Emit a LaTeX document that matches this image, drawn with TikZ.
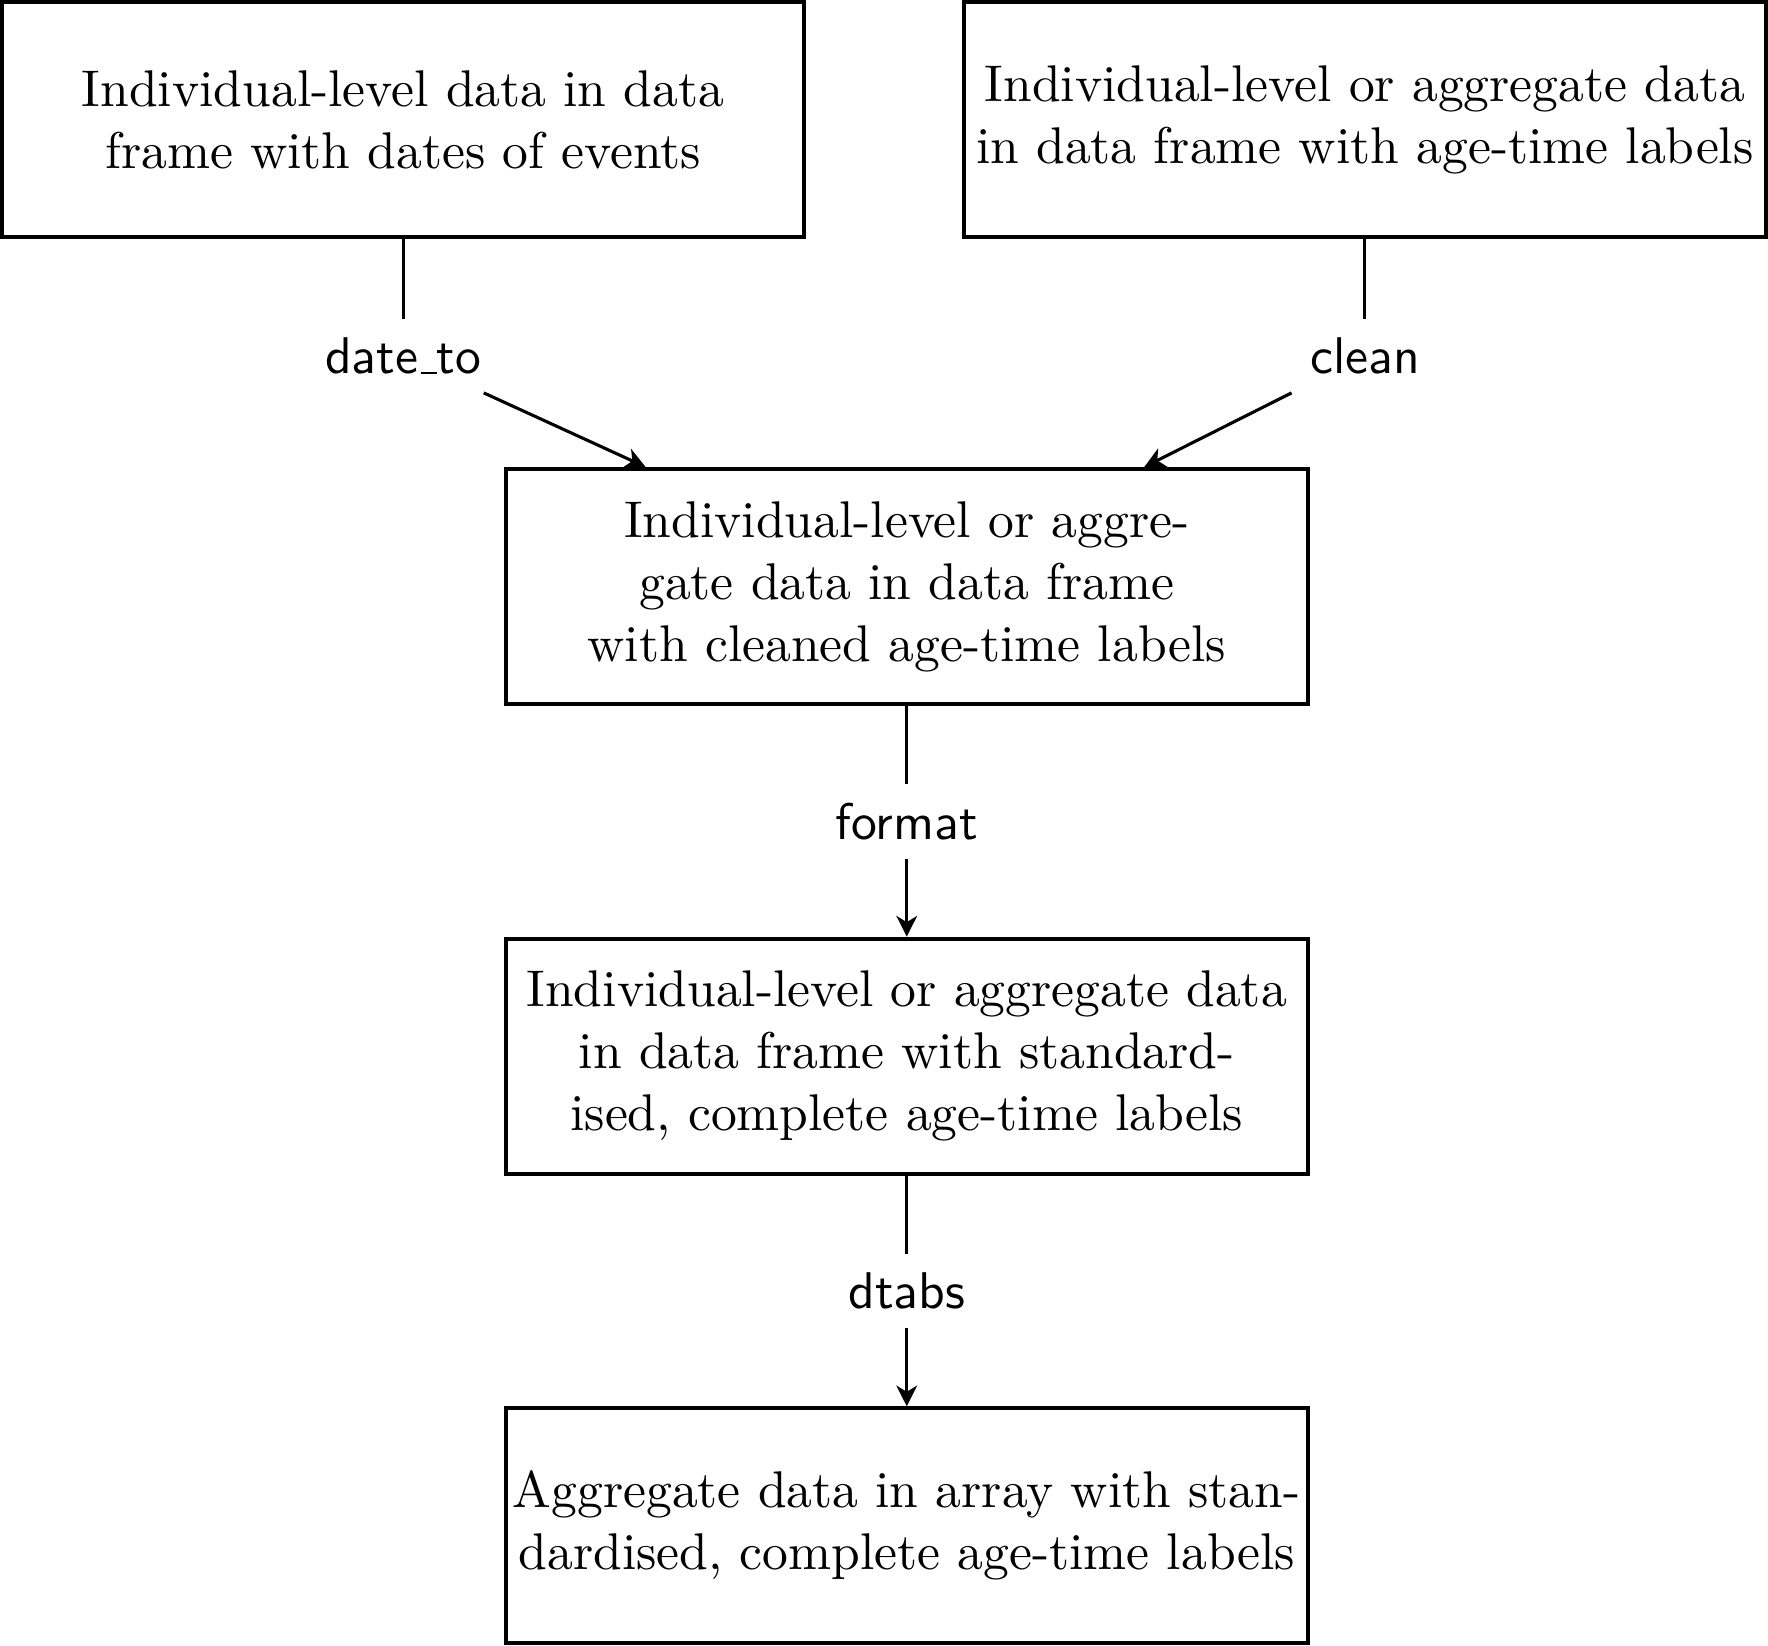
\documentclass[tikz,border=0pt]{standalone}
\usepackage{tikz}
\usetikzlibrary{positioning, arrows.meta, calc}
\newcommand{\lowbar}{\leavevmode\kern.06em\vbox{\hrule width.3em}}

\begin{document}
\begin{tikzpicture}[
	databox/.style={draw, thick, text width=5.37cm, align=center, minimum height=1.6cm, inner xsep=1.3pt, inner ysep=3.33pt},
	fnlabel/.style={font=\sffamily, inner sep=3.33pt},
	fnarrow/.style={-{Stealth[length=4pt, width=4pt, inset=1.2pt]}},
	every path/.style={semithick}]
	% input data
	\node[databox] (dates) at (2.74,0) {Individual-level data in data frame with dates of events};
	\node[databox] (labels) at (9.29,0) {Individual-level or aggregate data in data frame with age-time labels};
	% cleaned and standardised data
	\node[databox] (cleaned) at (6.17,-3.18) {Individual-level or aggregate data in data frame with cleaned age-time labels};
	\node[databox, below=1.57cm of cleaned] (standard) {Individual-level or aggregate data in data frame with standard\-ised, complete age-time labels};
	\node[databox, below=1.57cm of standard] (array) {Aggregate data in array with stan\-dardised, complete age-time labels};
	% functions
	\node[fnlabel] (dateto) at (2.74,-1.61) {date\lowbar to};
	\node[fnlabel] (clean) at (9.29,-1.61) {clean};
	\node[fnlabel] (format) at ($(cleaned.south)!0.5!(standard.north)$) {format};
	\node[fnlabel] (dtabs) at ($(standard.south)!0.5!(array.north)$) {dtabs};
	
	\draw (dates) -- (dateto);
	\draw[fnarrow] (dateto) -- (cleaned);
	\draw (labels) -- (clean);
	\draw[fnarrow] (clean) -- (cleaned);
	\draw (cleaned) -- (format);
	\draw[fnarrow] (format) -- (standard);
	\draw (standard) -- (dtabs);
	\draw[fnarrow] (dtabs) -- (array);
\end{tikzpicture}
\end{document}
